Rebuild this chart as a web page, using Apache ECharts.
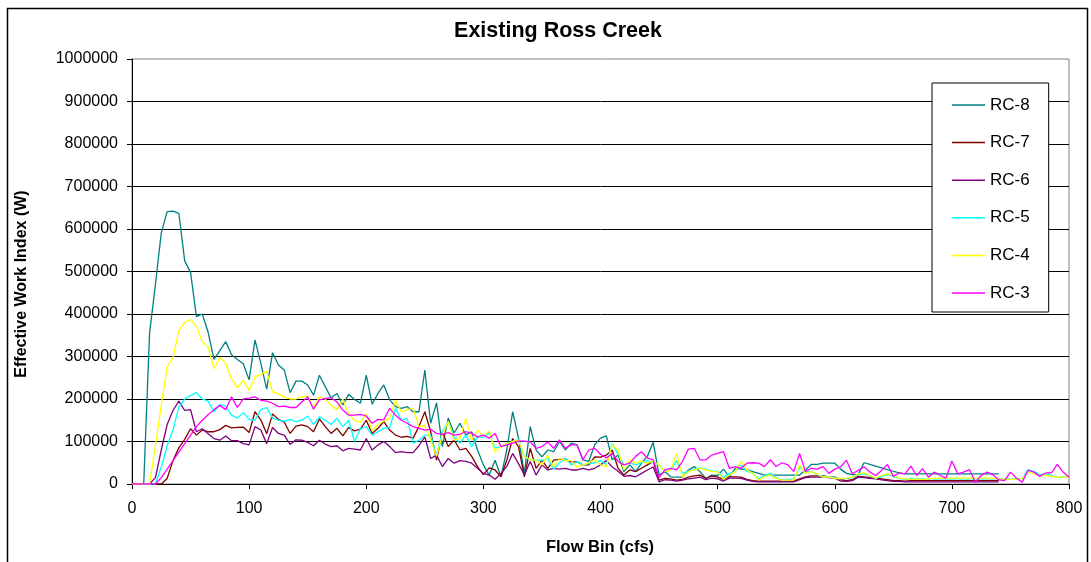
<!DOCTYPE html>
<html>
<head>
<meta charset="utf-8">
<script src="https://cdn.jsdelivr.net/npm/echarts@6/dist/echarts.min.js"></script>
<style>
  html, body { margin: 0; padding: 0; background: #ffffff; }
  #chart { width: 1091px; height: 562px; }
</style>
</head>
<body>
<div id="chart"></div>
<script>
// Flow bins (cfs)
const flowBins = [
  0, 5, 10, 15, 20, 25, 30, 35, 40, 45, 50, 55, 60, 65, 70, 75, 80, 85, 90, 95, 100,
  105, 110, 115, 120, 125, 130, 135, 140, 145, 150, 155, 160, 165, 170, 175, 180, 185, 190, 195, 200,
  205, 210, 215, 220, 225, 230, 235, 240, 245, 250, 255, 260, 265, 270, 275, 280, 285, 290, 295, 300,
  305, 310, 315, 320, 325, 330, 335, 340, 345, 350, 355, 360, 365, 370, 375, 380, 385, 390, 395, 400,
  405, 410, 415, 420, 425, 430, 435, 440, 445, 450, 455, 460, 465, 470, 475, 480, 485, 490, 495, 500,
  505, 510, 515, 520, 525, 530, 535, 540, 545, 550, 555, 560, 565, 570, 575, 580, 585, 590, 595, 600,
  605, 610, 615, 620, 625, 630, 635, 640, 645, 650, 655, 660, 665, 670, 675, 680, 685, 690, 695, 700,
  705, 710, 715, 720, 725, 730, 735, 740, 745, 750, 755, 760, 765, 770, 775, 780, 785, 790, 795, 800
];

// Effective work index (W) per flow bin, one array per station
const rc8 = [
  0, 0, 0, 355000, 470000, 591000, 641000, 642000, 637000, 525000, 498000, 394000, 400000, 357000, 293000, 314000, 335000, 304000, 293000, 283000, 245000,
  339000, 284000, 223000, 309000, 280000, 268000, 215000, 242000, 242000, 233000, 209000, 256000, 229000, 203000, 213000, 186000, 211000, 199000, 190000, 256000,
  188000, 213000, 233000, 198000, 182000, 178000, 182000, 170000, 170000, 268000, 143000, 191000, 88000, 155000, 120000, 143000, 115000, 123000, 80000, 45000,
  21000, 56000, 17000, 80000, 170000, 108000, 25000, 135000, 80000, 64000, 80000, 76000, 100000, 80000, 96000, 92000, 57000, 53000, 92000, 108000,
  113000, 57000, 68000, 29000, 45000, 29000, 49000, 65000, 98000, 21000, 29000, 17000, 16000, 16000, 33000, 41000, 29000, 13000, 21000, 20000,
  35000, 17000, 37000, 35000, 33000, 29000, 25000, 21000, 21000, 21000, 21000, 21000, 21000, 21000, 33000, 46000, 46000, 49000, 49000, 49000,
  35000, 25000, 22000, 22000, 50000, 46000, 42000, 38000, 34000, 30000, 26000, 24000, 24000, 24000, 24000, 24000, 24000, 24000, 24000, 24000,
  24000, 24000, 24000, 24000, 24000, 24000, 24000, 24000
];
const rc7 = [
  0, 0, 0, 0, 0, 0, 13000, 55000, 85000, 105000, 130000, 115000, 127000, 123000, 123000, 128000, 138000, 132000, 133000, 134000, 121000,
  170000, 151000, 118000, 165000, 152000, 146000, 119000, 136000, 139000, 135000, 123000, 153000, 135000, 119000, 131000, 113000, 133000, 125000, 129000, 150000,
  119000, 131000, 147000, 127000, 115000, 110000, 112000, 108000, 135000, 170000, 123000, 56000, 123000, 88000, 104000, 80000, 84000, 65000, 41000, 22000,
  38000, 33000, 17000, 56000, 107000, 88000, 17000, 84000, 37000, 56000, 37000, 56000, 58000, 58000, 52000, 52000, 45000, 45000, 64000, 63000,
  68000, 80000, 37000, 21000, 33000, 29000, 37000, 45000, 53000, 9000, 13000, 12000, 9000, 11000, 16000, 19000, 21000, 13000, 19000, 16000,
  11000, 17000, 17000, 16000, 11000, 8000, 7000, 7000, 7000, 7000, 7000, 7000, 7000, 12000, 17000, 19000, 19000, 19000, 17000, 16000,
  10000, 8000, 10000, 18000, 17000, 15000, 14000, 12000, 10000, 8000, 8000, 7000, 8000, 8000, 8000, 8000, 8000, 8000, 8000, 8000,
  8000, 8000, 8000, 8000, 8000, 8000, 8000, 8000
];
const rc6 = [
  0, 0, 0, 0, 15000, 80000, 140000, 173000, 195000, 173000, 175000, 123000, 130000, 118000, 107000, 103000, 113000, 102000, 102000, 95000, 92000,
  135000, 127000, 95000, 133000, 119000, 115000, 93000, 104000, 103000, 98000, 90000, 103000, 94000, 88000, 90000, 78000, 84000, 82000, 80000, 107000,
  80000, 92000, 100000, 88000, 74000, 76000, 74000, 74000, 90000, 111000, 60000, 68000, 41000, 60000, 49000, 55000, 53000, 49000, 37000, 25000,
  21000, 11000, 25000, 41000, 72000, 48000, 21000, 53000, 21000, 45000, 33000, 37000, 35000, 37000, 33000, 33000, 37000, 33000, 37000, 45000,
  55000, 40000, 30000, 18000, 20000, 17000, 25000, 33000, 40000, 5000, 10000, 9000, 7000, 9000, 12000, 14000, 16000, 10000, 14000, 12000,
  7000, 14000, 14000, 13000, 9000, 6000, 5000, 5000, 5000, 5000, 5000, 5000, 5000, 10000, 15000, 16000, 16000, 16000, 15000, 13000,
  7000, 6000, 8000, 16000, 15000, 13000, 12000, 10000, 8000, 6000, 6000, 5000, 5000, 5000, 5000, 5000, 5000, 5000, 5000, 5000,
  5000, 5000, 5000, 5000, 5000, 5000, 5000, 5000
];
const rc5 = [
  0, 0, 0, 0, 0, 40000, 90000, 127000, 181000, 200000, 208000, 215000, 200000, 195000, 170000, 187000, 183000, 162000, 155000, 168000, 152000,
  150000, 175000, 180000, 155000, 150000, 148000, 152000, 147000, 150000, 160000, 140000, 158000, 150000, 140000, 155000, 135000, 150000, 100000, 130000, 135000,
  115000, 123000, 131000, 133000, 178000, 150000, 154000, 96000, 103000, 115000, 115000, 68000, 123000, 147000, 111000, 96000, 115000, 88000, 111000, 110000,
  120000, 85000, 88000, 95000, 100000, 105000, 65000, 57000, 57000, 55000, 60000, 35000, 50000, 60000, 45000, 52000, 45000, 48000, 50000, 55000,
  45000, 95000, 70000, 45000, 50000, 45000, 50000, 55000, 50000, 45000, 30000, 33000, 55000, 25000, 30000, 35000, 38000, 35000, 30000, 30000,
  15000, 25000, 30000, 45000, 30000, 25000, 12000, 20000, 25000, 15000, 10000, 10000, 12000, 40000, 28000, 30000, 22000, 18000, 17000, 15000,
  12000, 13000, 15000, 22000, 24000, 19000, 13000, 18000, 22000, 18000, 13000, 11000, 12000, 12000, 12000, 12000, 12000, 12000, 12000, 12000,
  12000, 12000, 12000, 12000, 12000, 12000, 12000, 12000, 12000, 12000, 12000, 12000, 34000, 30000, 22000, 24000, 20000, 16000, 16000, 18000
];
const rc4 = [
  0, 0, 0, 0, 90000, 185000, 275000, 298000, 361000, 380000, 387000, 371000, 335000, 322000, 271000, 298000, 284000, 246000, 227000, 244000, 220000,
  252000, 258000, 265000, 217000, 212000, 205000, 200000, 200000, 205000, 207000, 178000, 205000, 200000, 185000, 175000, 200000, 165000, 150000, 145000, 165000,
  125000, 140000, 148000, 155000, 197000, 170000, 175000, 178000, 135000, 138000, 103000, 65000, 115000, 147000, 103000, 107000, 155000, 103000, 127000, 112000,
  125000, 75000, 88000, 95000, 100000, 103000, 65000, 57000, 57000, 45000, 68000, 40000, 60000, 55000, 55000, 40000, 45000, 50000, 57000, 45000,
  41000, 92000, 80000, 33000, 57000, 49000, 53000, 49000, 53000, 45000, 29000, 33000, 72000, 17000, 29000, 33000, 37000, 33000, 29000, 29000,
  11000, 21000, 29000, 53000, 33000, 25000, 9000, 17000, 21000, 13000, 9000, 9000, 9000, 45000, 25000, 29000, 24000, 16000, 17000, 13000,
  13000, 14000, 16000, 24000, 26000, 20000, 14000, 20000, 24000, 20000, 14000, 12000, 11000, 11000, 11000, 12000, 13000, 14000, 14000, 14000,
  14000, 14000, 14000, 14000, 14000, 14000, 13000, 12000, 11000, 11000, 11000, 12000, 28000, 24000, 20000, 20000, 18000, 16000, 16000, 16000
];
const rc3 = [
  0, 0, 0, 0, 0, 15000, 35000, 55000, 75000, 95000, 115000, 135000, 150000, 163000, 175000, 185000, 175000, 205000, 180000, 200000, 202000,
  205000, 197000, 195000, 190000, 182000, 183000, 180000, 180000, 193000, 205000, 176000, 198000, 201000, 203000, 193000, 174000, 162000, 162000, 164000, 160000,
  143000, 152000, 151000, 178000, 162000, 150000, 143000, 135000, 131000, 127000, 129000, 119000, 117000, 121000, 115000, 117000, 123000, 119000, 111000, 115000,
  108000, 119000, 88000, 92000, 96000, 101000, 101000, 99000, 84000, 88000, 99000, 84000, 104000, 84000, 92000, 92000, 57000, 80000, 84000, 70000,
  61000, 72000, 53000, 45000, 49000, 65000, 76000, 61000, 57000, 15000, 33000, 37000, 33000, 53000, 82000, 84000, 57000, 57000, 68000, 72000,
  76000, 37000, 41000, 37000, 49000, 50000, 49000, 41000, 57000, 41000, 50000, 45000, 29000, 72000, 29000, 37000, 35000, 41000, 25000, 35000,
  40000, 56000, 24000, 32000, 40000, 28000, 20000, 32000, 46000, 18000, 26000, 24000, 42000, 20000, 36000, 16000, 28000, 20000, 14000, 54000,
  24000, 28000, 34000, 4000, 20000, 28000, 22000, 10000, 8000, 28000, 14000, 4000, 32000, 28000, 18000, 26000, 26000, 46000, 28000, 16000
];

const seriesNames = ['RC-8', 'RC-7', 'RC-6', 'RC-5', 'RC-4', 'RC-3'];
const seriesValues = [rc8, rc7, rc6, rc5, rc4, rc3];
const seriesColors = ['#008080', '#800000', '#800080', '#00FFFF', '#FFFF00', '#FF00FF'];

const FONT = '"Liberation Sans", Arial, sans-serif';

const chart = echarts.init(document.getElementById('chart'), null, { renderer: 'canvas' });

const series = seriesNames.map((name, k) => ({
  name: name,
  type: 'line',
  data: seriesValues[k].map((v, i) => [flowBins[i], v]),
  symbol: 'none',
  showSymbol: false,
  smooth: false,
  lineStyle: { color: seriesColors[k], width: 1.3 },
  itemStyle: { color: seriesColors[k] },
  emphasis: { disabled: true }
}));

chart.setOption({
  animation: false,
  backgroundColor: '#ffffff',
  title: {
    text: 'Existing Ross Creek',
    left: 553,
    top: 15,
    textAlign: 'center',
    textStyle: { fontFamily: FONT, fontSize: 21.5, fontWeight: 'bold', color: '#000000' }
  },
  legend: {
    orient: 'vertical',
    left: 932,
    top: 83,
    backgroundColor: '#ffffff',
    borderColor: '#000000',
    borderWidth: 1,
    padding: [13.5, 19, 10.5, 20],
    icon: 'rect',
    itemWidth: 33,
    itemHeight: 1.5,
    itemGap: 20.6,
    data: seriesNames,
    textStyle: { fontFamily: FONT, fontSize: 17, lineHeight: 17, color: '#000000' },
    selectedMode: false
  },
  grid: {
    left: 132,
    right: 22,
    top: 59,
    bottom: 78,
    show: true,
    borderColor: '#808080',
    borderWidth: 1,
    backgroundColor: 'transparent'
  },
  xAxis: {
    type: 'value',
    min: 0,
    max: 800,
    interval: 100,
    axisLine: { show: true, lineStyle: { color: '#000000', width: 1 } },
    axisTick: { show: true, length: 5, inside: false, lineStyle: { color: '#000000' } },
    axisLabel: { fontFamily: FONT, fontSize: 16, color: '#000000', margin: 17 },
    splitLine: { show: false }
  },
  yAxis: {
    type: 'value',
    min: 0,
    max: 1000000,
    interval: 100000,
    axisLine: { show: true, lineStyle: { color: '#000000', width: 1 } },
    axisTick: { show: true, length: 5, inside: false, lineStyle: { color: '#000000' } },
    axisLabel: {
      fontFamily: FONT, fontSize: 16, color: '#000000', margin: 14,
      formatter: function (v) { return String(v); }
    },
    splitLine: { show: true, showMaxLine: false, lineStyle: { color: '#000000', width: 1 } }
  },
  graphic: [
    {
      type: 'rect',
      silent: true,
      z: -10,
      shape: { x: 7.5, y: 8.5, width: 1080, height: 570 },
      style: { fill: null, stroke: '#000000', lineWidth: 1.5 }
    },
    {
      type: 'text',
      silent: true,
      x: 22,
      y: 284,
      rotation: Math.PI / 2,
      style: {
        text: 'Effective Work Index (W)',
        fontFamily: FONT,
        fontSize: 16,
        fontWeight: 'bold',
        fill: '#000000',
        align: 'center',
        verticalAlign: 'middle'
      }
    },
    {
      type: 'text',
      silent: true,
      x: 600,
      y: 547,
      style: {
        text: 'Flow Bin (cfs)',
        fontFamily: FONT,
        fontSize: 16.5,
        fontWeight: 'bold',
        fill: '#000000',
        align: 'center',
        verticalAlign: 'middle'
      }
    }
  ],
  series: series
});
</script>
</body>
</html>
